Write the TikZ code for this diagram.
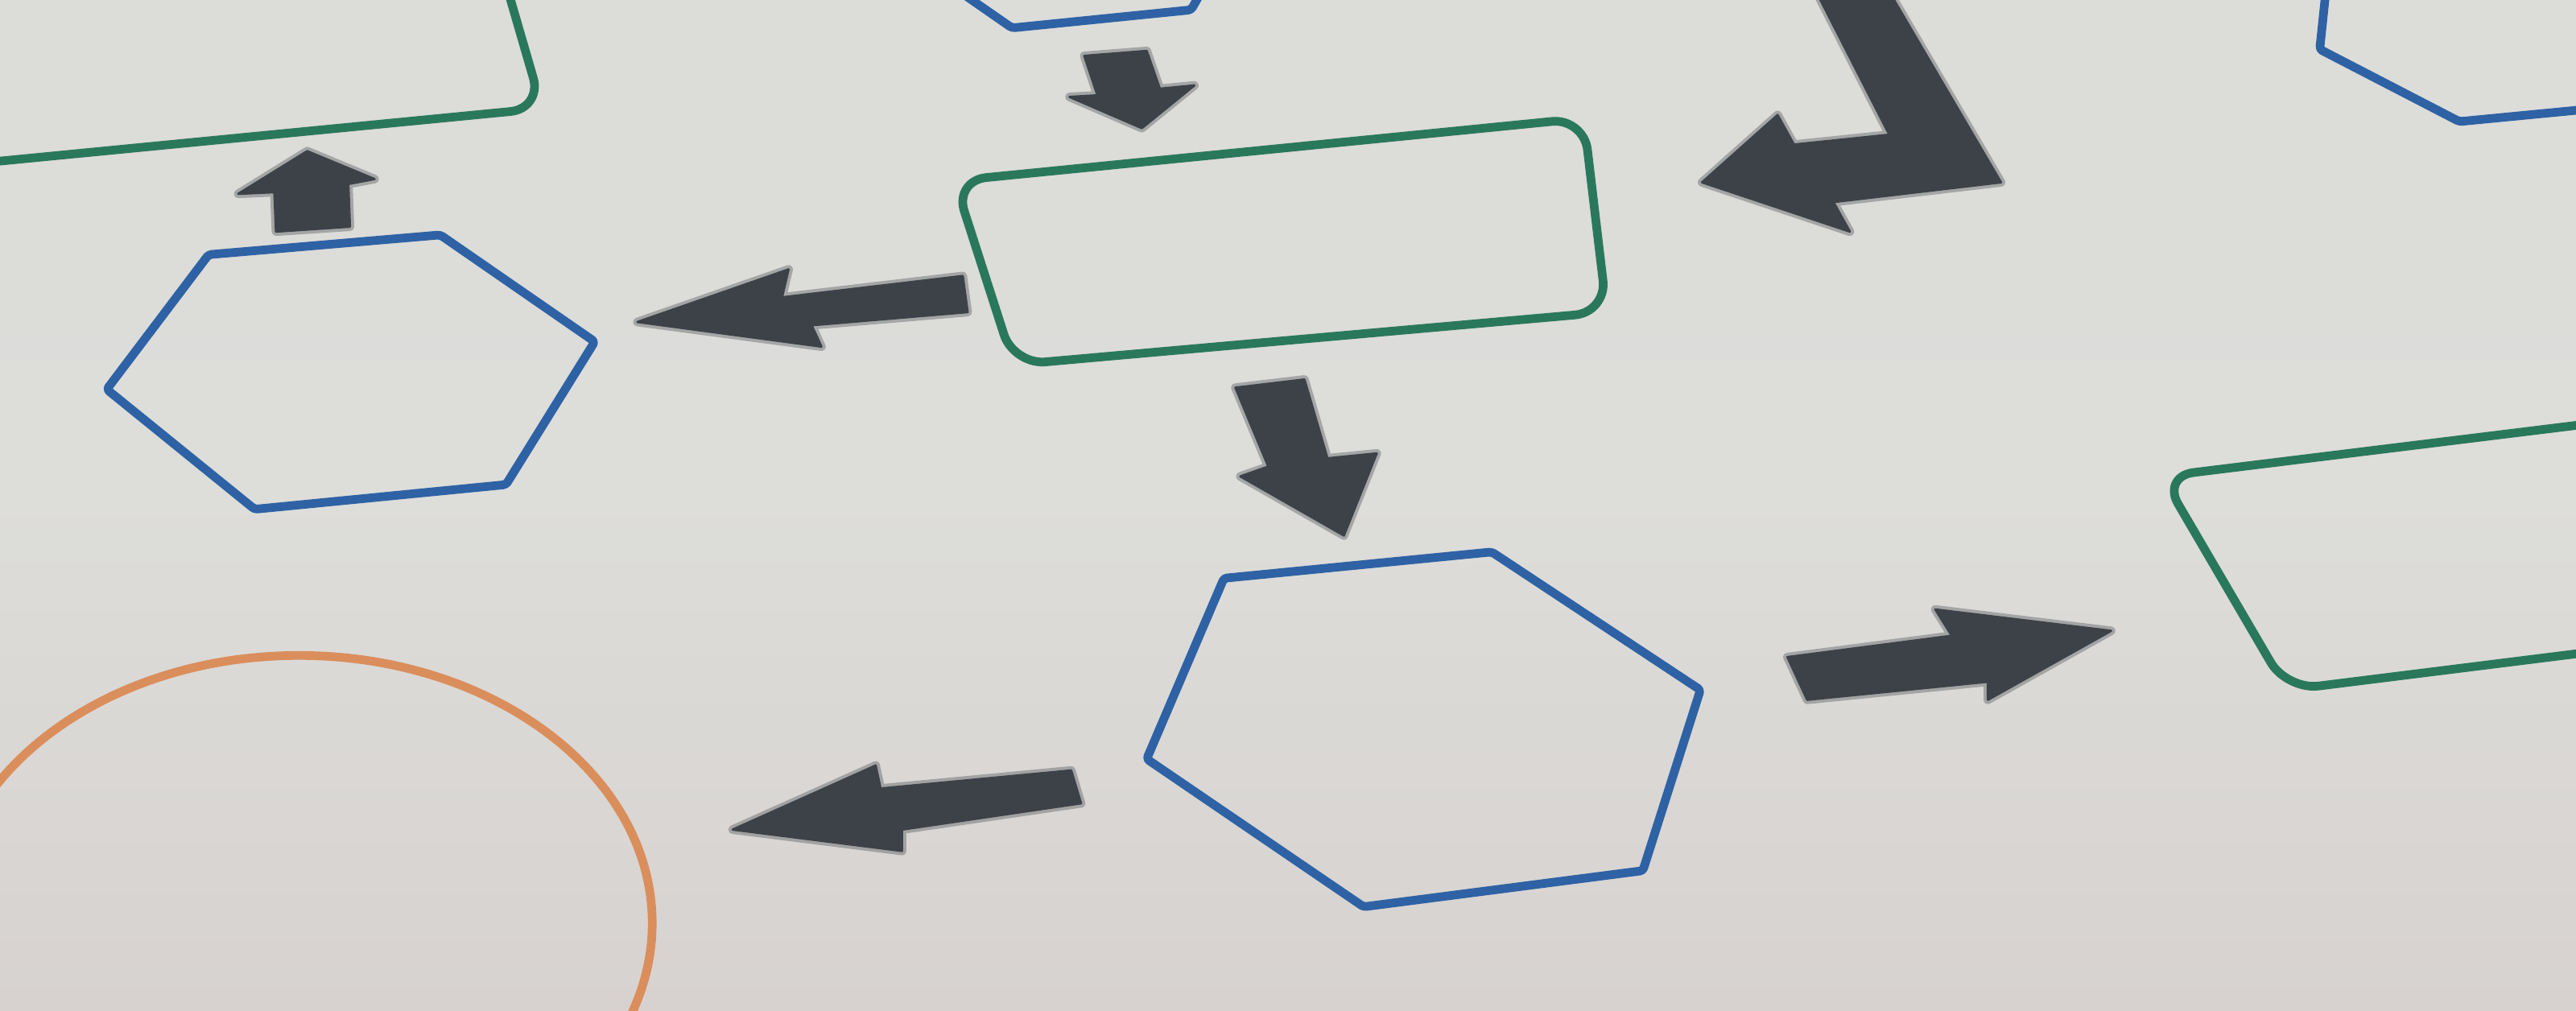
\documentclass[tikz,border=0pt]{standalone}
\usetikzlibrary{calc}
\definecolor{paper}{RGB}{220,220,217}
\definecolor{paperlow}{RGB}{215,210,207}
\definecolor{gline}{RGB}{42,120,92}
\definecolor{bline}{RGB}{46,98,164}
\definecolor{oline}{RGB}{218,142,92}
\definecolor{arrowc}{RGB}{60,66,72}
\tikzset{
  shapeline/.style={line width=3pt, line join=round, rounded corners=#1},
  shapeline/.default=0pt,
  greenbox/.style={shapeline=11pt, draw=gline},
  bluehex/.style={shapeline=1pt, draw=bline},
  orangering/.style={line width=3pt, draw=oline},
  blockarrow/.style={fill=arrowc, draw=arrowc, line width=0.8pt, line join=round},
  arrowhalo/.style={draw=arrowc, draw opacity=0.35, line width=3pt, line join=round}
}
\begin{document}
\begin{tikzpicture}[x=0.02cm, y=-0.02cm]
\useasboundingbox (0,0) rectangle (1568,615.4);
\shade[top color=paper, bottom color=paperlow, middle color=paper!98!white] (0,0) rectangle (1568,615.4);
\begin{scope}
\clip (0,0) rectangle (1568,615.4);
% top-left green box (partial)
\draw[greenbox] (-20,100) -- (330,66) -- (305,-20);
% top-center hexagon (partial)
\draw[bluehex] (580,-8) -- (616,17) -- (725,6) -- (733,-8);
% top-right hexagon (partial)
\draw[bluehex] (1416,-8) -- (1412,30) -- (1497,74) -- (1580,66);
% central green box
\draw[greenbox] (581,110) -- (964,72) -- (978,190) -- (617,222) -- cycle;
% left hexagon
\draw[bluehex] (65,237) -- (127,155) -- (268,143) -- (362,208) -- (308,295) -- (155,310) -- cycle;
% bottom hexagon
\draw[bluehex] (698,462) -- (745,352) -- (908,336) -- (1035,420) -- (1000,530) -- (830,552) -- cycle;
% right green box (partial)
\draw[greenbox] (1600,255) -- (1316,290) -- (1392,420) -- (1600,394);
% orange circle (partial)
\draw[orangering] (182,562) ellipse [x radius=215, y radius=163];
% arrows
\foreach \p in {
  {(187,92) -- (228,109) -- (212,112) -- (213,138) -- (168,141) -- (167,117) -- (145,118) -- cycle},
  {(660,34) -- (698,31) -- (706,54) -- (727,52) -- (695,78) -- (651,59) -- (668,58) -- cycle},
  {(1103,-10) -- (1150,82) -- (1092,88) -- (1082,70) -- (1036,111) -- (1126,141) -- (1116,123) -- (1218,111) -- (1147,-10) -- cycle},
  {(388,196) -- (480,164) -- (476,181) -- (586,168) -- (589,190) -- (494,198) -- (500,211) -- cycle},
  {(752,236) -- (794,231) -- (808,279) -- (838,276) -- (818,326) -- (755,290) -- (772,284) -- cycle},
  {(1088,400) -- (1188,387) -- (1178,371) -- (1285,384) -- (1210,426) -- (1210,415) -- (1100,426) -- cycle},
  {(446,505) -- (533,466) -- (536,480) -- (652,469) -- (658,489) -- (549,505) -- (549,518) -- cycle}}
{
  \draw[arrowhalo] \p;
  \filldraw[blockarrow] \p;
}
\end{scope}
\end{tikzpicture}
\end{document}
